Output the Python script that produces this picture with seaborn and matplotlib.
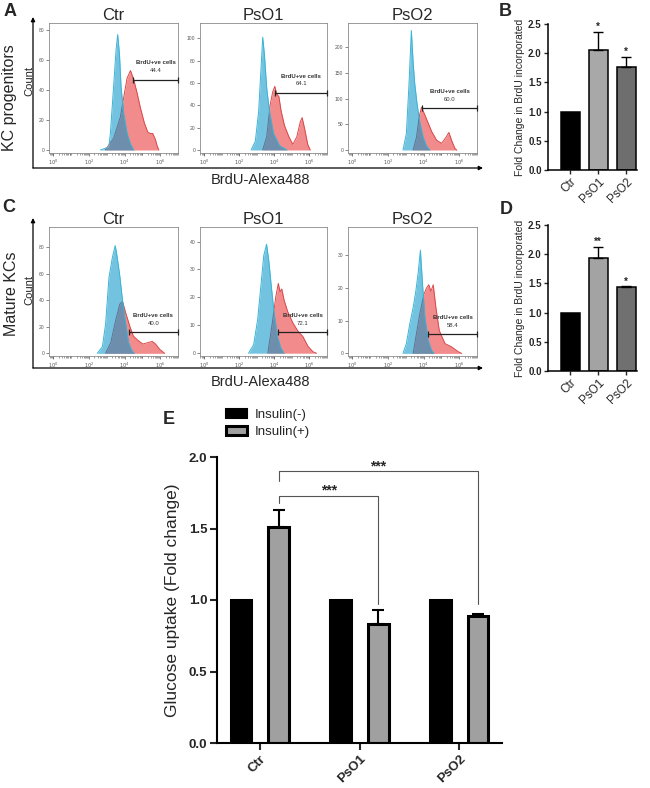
import numpy as np
import pandas as pd
import matplotlib
matplotlib.use("Agg")
import matplotlib.pyplot as plt
from matplotlib.patches import FancyArrowPatch, Patch
from matplotlib.ticker import FixedLocator, LogLocator, NullFormatter, MultipleLocator, FormatStrFormatter
import seaborn as sns

sns.set_theme(style="ticks")
plt.rcParams["font.family"] = ["Liberation Sans", "DejaVu Sans"]

W, H = 650, 788
samples = ["Ctr", "PsO1", "PsO2"]

# ---------------------------------------------------------------
# Flow histograms: x = log10(BrdU-Alexa488), y = count
# ---------------------------------------------------------------
# A - KC progenitors
a_ctr_blue_x = [2.64, 3.11, 3.20, 3.39, 3.52, 3.61, 3.71, 3.80, 3.95, 4.14, 4.33, 4.51]
a_ctr_blue_y = [0, 2, 11, 44, 67, 77, 64, 42, 24, 11, 4, 0]
a_ctr_red_x = [2.92, 3.39, 3.76, 3.99, 4.14, 4.33, 4.51, 4.70, 4.89, 5.11, 5.30, 5.45, 5.58, 5.73, 5.82, 5.92]
a_ctr_red_y = [0, 8, 22, 38, 48, 53, 47, 38, 28, 18, 12, 11, 11, 7, 3, 0]

a_pso1_blue_x = [2.67, 2.91, 3.10, 3.24, 3.33, 3.43, 3.56, 3.71, 3.94, 4.29, 4.71]
a_pso1_blue_y = [0, 8, 35, 75, 101, 85, 55, 35, 15, 4, 0]
a_pso1_red_x = [3.33, 3.56, 3.75, 3.90, 4.02, 4.13, 4.25, 4.38, 4.57, 4.82, 5.05, 5.28, 5.47, 5.58, 5.71, 5.90, 6.04]
a_pso1_red_y = [0, 12, 40, 52, 57, 50, 48, 35, 22, 12, 5, 12, 25, 29, 20, 5, 0]

a_pso2_blue_x = [2.84, 3.03, 3.18, 3.31, 3.41, 3.50, 3.63, 3.78, 3.97, 4.16, 4.35]
a_pso2_blue_y = [0, 32, 129, 232, 170, 129, 90, 55, 25, 8, 0]
a_pso2_red_x = [3.41, 3.60, 3.75, 3.88, 4.07, 4.26, 4.45, 4.73, 5.01, 5.26, 5.42, 5.58, 5.76, 5.86]
a_pso2_red_y = [0, 25, 65, 83, 68, 52, 36, 19, 13, 25, 34, 18, 3, 0]

a_gate_start = [4.49, 4.04, 3.92]
a_gate_y = [47, 51, 81]
a_gate_pct = ["44.4", "64.1", "60.0"]
a_ylim = [(-2, 84.7), (-2.7, 113.7), (-5.8, 246.6)]
a_ystep = [20, 20, 50]

# C - Mature KCs
c_ctr_blue_x = [2.46, 2.75, 2.93, 3.12, 3.31, 3.47, 3.54, 3.66, 3.73, 3.88, 4.03, 4.22, 4.41, 4.55]
c_ctr_blue_y = [0, 5, 22, 57, 72, 81, 76, 65, 58, 40, 25, 8, 2, 0]
c_ctr_red_x = [2.93, 3.22, 3.50, 3.73, 3.88, 4.07, 4.30, 4.49, 4.73, 5.02, 5.30, 5.55, 5.74, 5.97, 6.25]
c_ctr_red_y = [0, 8, 25, 37, 39, 30, 20, 13, 10, 7, 8, 9, 7, 3, 0]

c_pso1_blue_x = [2.52, 2.81, 3.04, 3.24, 3.39, 3.55, 3.68, 3.82, 3.97, 4.17, 4.36, 4.55]
c_pso1_blue_y = [0, 3, 12, 25, 35, 39, 33, 24, 15, 6, 2, 0]
c_pso1_red_x = [3.62, 3.88, 4.07, 4.22, 4.32, 4.42, 4.55, 4.75, 5.04, 5.33, 5.62, 5.91, 6.20, 6.40]
c_pso1_red_y = [0, 11, 20, 25, 22, 23, 19, 15, 11, 8, 6, 2.5, 0.5, 0]

c_pso2_blue_x = [2.84, 3.03, 3.22, 3.41, 3.56, 3.69, 3.82, 3.94, 4.07, 4.26, 4.44, 4.58]
c_pso2_blue_y = [0, 3, 9, 14, 19, 24.5, 31.6, 21, 11, 4, 1, 0]
c_pso2_red_x = [3.41, 3.78, 4.01, 4.16, 4.29, 4.41, 4.54, 4.69, 4.88, 5.20, 5.57, 5.95, 6.14]
c_pso2_red_y = [0, 12, 18, 20, 21, 19, 21, 14, 7, 3, 2, 0.5, 0]

c_gate_start = [4.22, 4.21, 4.26]
c_gate_y = [16, 7.5, 5.9]
c_gate_pct = ["40.0", "72.1", "58.4"]
c_ylim = [(-2, 95), (-1, 45.2), (-0.8, 38.7)]
c_ystep = [20, 10, 10]

# ---------------------------------------------------------------
# B / D - fold change in BrdU incorporated
# ---------------------------------------------------------------
b_values = [1.0, 2.06, 1.77]
b_errors = [0.0, 0.31, 0.17]
b_stars = ["", "*", "*"]
d_values = [1.0, 1.93, 1.44]
d_errors = [0.0, 0.20, 0.02]
d_stars = ["", "**", "*"]

# ---------------------------------------------------------------
# E - glucose uptake
# ---------------------------------------------------------------
e_groups = ["Ctr", "PsO1", "PsO2"]
e_hue = ["Insulin(-)", "Insulin(+)"]
e_insulin_neg = [1.0, 1.0, 1.0]
e_insulin_pos = [1.51, 0.83, 0.89]
e_insulin_pos_err = [0.12, 0.10, 0.01]
e_bracket_to = [1, 2]              # Ctr insulin(+) vs this group
e_bracket_top = [1.73, 1.90]
e_bracket_left_end = [1.68, 1.83]
e_bracket_right_end = [0.97, 0.97]
e_bracket_label = ["***", "***"]

RED_FILL = "#f28b8b"
RED_EDGE = "#d8494a"
BLUE_FILL = "#0092c8"
BLUE_EDGE = "#39b4d6"
X_LO, X_HI = -0.25, 7.0


def box(x0, y0, x1, y1):
    # pixel box -> figure fraction
    return [x0 / W, 1 - y1 / H, (x1 - x0) / W, (y1 - y0) / H]


def draw_hist(ax, blue_x, blue_y, red_x, red_y, gstart, gy, pct, ylim, ystep, title):
    ax.set_xscale("log")
    bx = 10 ** np.array(blue_x)
    rx = 10 ** np.array(red_x)
    ax.fill_between(rx, red_y, color=RED_FILL, lw=0, zorder=2)
    sns.lineplot(x=rx, y=red_y, color=RED_EDGE, lw=0.7, ax=ax, zorder=3, sort=False)
    ax.fill_between(bx, blue_y, color=BLUE_FILL, alpha=0.55, lw=0, zorder=4)
    sns.lineplot(x=bx, y=blue_y, color=BLUE_EDGE, lw=0.7, ax=ax, zorder=5, sort=False)

    # gate
    gx = [10 ** gstart, 10 ** X_HI]
    ax.plot(gx, [gy, gy], color="#222222", lw=0.9, zorder=6, clip_on=False)
    ax.plot(gx, [gy, gy], ls="none", marker="|", ms=4, mew=0.9, color="#222222", zorder=6, clip_on=False)
    mid = 10 ** ((gstart + X_HI) / 2)
    ax.annotate("BrdU+ve cells", (mid, gy), xytext=(0, 12), textcoords="offset points",
                ha="center", va="center", fontsize=4.3, fontweight="bold", color="#333333", zorder=7)
    ax.annotate(pct, (mid, gy), xytext=(0, 6.5), textcoords="offset points",
                ha="center", va="center", fontsize=4.3, color="#333333", zorder=7)

    ax.set_xlim(10 ** X_LO, 10 ** X_HI)
    ax.set_ylim(*ylim)
    ax.xaxis.set_major_locator(FixedLocator([1, 1e2, 1e4, 1e6]))
    ax.set_xticklabels(["$10^{0}$", "$10^{2}$", "$10^{4}$", "$10^{6}$"])
    ax.xaxis.set_minor_locator(LogLocator(base=10, subs=np.arange(1, 10), numticks=30))
    ax.xaxis.set_minor_formatter(NullFormatter())
    ax.yaxis.set_major_locator(MultipleLocator(ystep))
    ax.tick_params(axis="both", which="major", labelsize=3.6, length=2, width=0.5,
                   pad=1.5, colors="#555555")
    ax.tick_params(axis="x", which="minor", length=1.2, width=0.4, colors="#555555")
    for s in ax.spines.values():
        s.set_color("#8a8a8a")
        s.set_linewidth(0.6)
    ax.set_title(title, fontsize=12, pad=2)
    ax.set_xlabel("")
    ax.set_ylabel("")


def draw_fold(ax, vals, errs, colors, stars):
    sns.barplot(x=samples, y=vals, hue=samples, palette=colors, width=0.68,
                saturation=1, ax=ax, legend=False)
    centers = []
    for bar in ax.patches:
        bar.set_edgecolor("black")
        bar.set_linewidth(1.1)
        centers.append(bar.get_x() + bar.get_width() / 2)
    for c, v, e, s in zip(centers, vals, errs, stars):
        if e > 0:
            ax.errorbar([c], [v], yerr=[[0], [e]], fmt="none", ecolor="black",
                        elinewidth=1.0, capsize=3.5, capthick=1.0, zorder=1)
        if s:
            ax.annotate(s, (c, v + e), xytext=(0, 1), textcoords="offset points",
                        ha="center", va="baseline", fontsize=7, fontweight="bold")
    ax.set_xlim(-0.79, 2.39)
    ax.set_ylim(0, 2.5)
    ax.yaxis.set_major_locator(MultipleLocator(0.5))
    ax.yaxis.set_major_formatter(FormatStrFormatter("%.1f"))
    ax.tick_params(axis="y", labelsize=7, length=3, width=1.0, pad=1.5)
    ax.tick_params(axis="x", labelsize=8.5, length=3, width=1.0, pad=1)
    for lab in ax.get_yticklabels():
        lab.set_fontweight("bold")
    plt.setp(ax.get_xticklabels(), rotation=45, ha="right", rotation_mode="anchor")
    ax.set_ylabel("Fold Change in BrdU incorporated", fontsize=7.5, labelpad=2)
    sns.despine(ax=ax)
    for s in ["left", "bottom"]:
        ax.spines[s].set_linewidth(1.1)
        ax.spines[s].set_color("black")


fig = plt.figure(figsize=(6.5, 7.88), dpi=100)

hist_cols = [(49, 178), (200, 327), (348, 477)]
a_data = [(a_ctr_blue_x, a_ctr_blue_y, a_ctr_red_x, a_ctr_red_y),
          (a_pso1_blue_x, a_pso1_blue_y, a_pso1_red_x, a_pso1_red_y),
          (a_pso2_blue_x, a_pso2_blue_y, a_pso2_red_x, a_pso2_red_y)]
c_data = [(c_ctr_blue_x, c_ctr_blue_y, c_ctr_red_x, c_ctr_red_y),
          (c_pso1_blue_x, c_pso1_blue_y, c_pso1_red_x, c_pso1_red_y),
          (c_pso2_blue_x, c_pso2_blue_y, c_pso2_red_x, c_pso2_red_y)]

for i, (x0, x1) in enumerate(hist_cols):
    ax = fig.add_axes(box(x0, 23, x1, 153))
    draw_hist(ax, *a_data[i], a_gate_start[i], a_gate_y[i], a_gate_pct[i],
              a_ylim[i], a_ystep[i], samples[i])
    ax = fig.add_axes(box(x0, 227, x1, 356))
    draw_hist(ax, *c_data[i], c_gate_start[i], c_gate_y[i], c_gate_pct[i],
              c_ylim[i], c_ystep[i], samples[i])

# L-shaped axis arrows around the histogram rows
for ybase, ytop in [(168, 17), (368, 218)]:
    for p0, p1 in [((33, ybase), (33, ytop)), ((33, ybase), (483, ybase))]:
        arr = FancyArrowPatch((p0[0] / W, 1 - p0[1] / H), (p1[0] / W, 1 - p1[1] / H),
                              transform=fig.transFigure, arrowstyle="-|>", mutation_scale=6,
                              lw=0.9, color="black", shrinkA=0, shrinkB=0)
        fig.add_artist(arr)

fig.text(10 / W, 1 - 98 / H, "KC progenitors", rotation=90, ha="center", va="center", fontsize=11.5)
fig.text(12 / W, 1 - 294 / H, "Mature KCs", rotation=90, ha="center", va="center", fontsize=11.5)
fig.text(29 / W, 1 - 81 / H, "Count", rotation=90, ha="center", va="center", fontsize=8)
fig.text(29 / W, 1 - 290 / H, "Count", rotation=90, ha="center", va="center", fontsize=8)
fig.text(261 / W, 1 - 180 / H, "BrdU-Alexa488", ha="center", va="center", fontsize=10.5)
fig.text(260 / W, 1 - 382 / H, "BrdU-Alexa488", ha="center", va="center", fontsize=10.5)

# B and D
ax_b = fig.add_axes(box(548, 24, 637, 170))
draw_fold(ax_b, b_values, b_errors, ["#000000", "#a8a8a8", "#6e6e6e"], b_stars)
ax_d = fig.add_axes(box(548, 225, 637, 371))
draw_fold(ax_d, d_values, d_errors, ["#000000", "#a3a3a3", "#707070"], d_stars)

# E
ax_e = fig.add_axes(box(217, 457, 502, 743))
e_df = pd.DataFrame({
    "group": e_groups * 2,
    "insulin": [e_hue[0]] * len(e_groups) + [e_hue[1]] * len(e_groups),
    "value": e_insulin_neg + e_insulin_pos,
})
e_colors = {e_hue[0]: "#000000", e_hue[1]: "#a0a0a0"}
sns.barplot(data=e_df, x="group", y="value", hue="insulin", order=e_groups, hue_order=e_hue,
            palette=e_colors, width=0.76, gap=0.45, saturation=1, errorbar=None,
            legend=False, ax=ax_e)
for cont in ax_e.containers:
    for bar in cont:
        bar.set_edgecolor("black")
        bar.set_linewidth(2.2)
pos_x = [b.get_x() + b.get_width() / 2 for b in ax_e.containers[1]]
ax_e.errorbar(pos_x, e_insulin_pos, yerr=[np.zeros(len(pos_x)), e_insulin_pos_err], fmt="none",
              ecolor="black", elinewidth=1.5, capsize=4.5, capthick=1.5, zorder=1)

for j, tgt in enumerate(e_bracket_to):
    xl, xr = pos_x[0], pos_x[tgt]
    top = e_bracket_top[j]
    ax_e.plot([xl, xl, xr, xr], [e_bracket_left_end[j], top, top, e_bracket_right_end[j]],
              color="#555555", lw=0.8, clip_on=False)
    ax_e.annotate(e_bracket_label[j], ((xl + xr) / 2, top), xytext=(0, 0.5),
                  textcoords="offset points", ha="center", va="baseline",
                  fontsize=10, fontweight="bold", annotation_clip=False)

ax_e.set_xlim(-0.43, 2.43)
ax_e.set_ylim(0, 2.0)
ax_e.yaxis.set_major_locator(MultipleLocator(0.5))
ax_e.yaxis.set_major_formatter(FormatStrFormatter("%.1f"))
ax_e.tick_params(axis="both", labelsize=9.5, length=5, width=1.5, pad=2)
for lab in ax_e.get_yticklabels() + ax_e.get_xticklabels():
    lab.set_fontweight("bold")
plt.setp(ax_e.get_xticklabels(), rotation=45, ha="right", rotation_mode="anchor")
ax_e.set_xlabel("")
ax_e.set_ylabel("Glucose uptake (Fold change)", fontsize=12.5, labelpad=6)
sns.despine(ax=ax_e)
for s in ["left", "bottom"]:
    ax_e.spines[s].set_linewidth(1.5)
    ax_e.spines[s].set_color("black")

handles = [Patch(facecolor="#000000", edgecolor="black", linewidth=1.5),
           Patch(facecolor="#a0a0a0", edgecolor="black", linewidth=2.2)]
fig.legend(handles, e_hue, loc="upper left", bbox_to_anchor=(226 / W, 1 - 409 / H),
           frameon=False, fontsize=9.5, handlelength=1.6, handleheight=0.7,
           handletextpad=0.6, labelspacing=0.35, borderpad=0, borderaxespad=0)

# panel letters
for letter, (x, y) in {"A": (10, 12), "B": (505, 11), "C": (9, 208),
                       "D": (506, 210), "E": (169, 419)}.items():
    fig.text(x / W, 1 - y / H, letter, ha="center", va="center", fontsize=13, fontweight="bold")

fig.savefig("out.png", dpi=100)
